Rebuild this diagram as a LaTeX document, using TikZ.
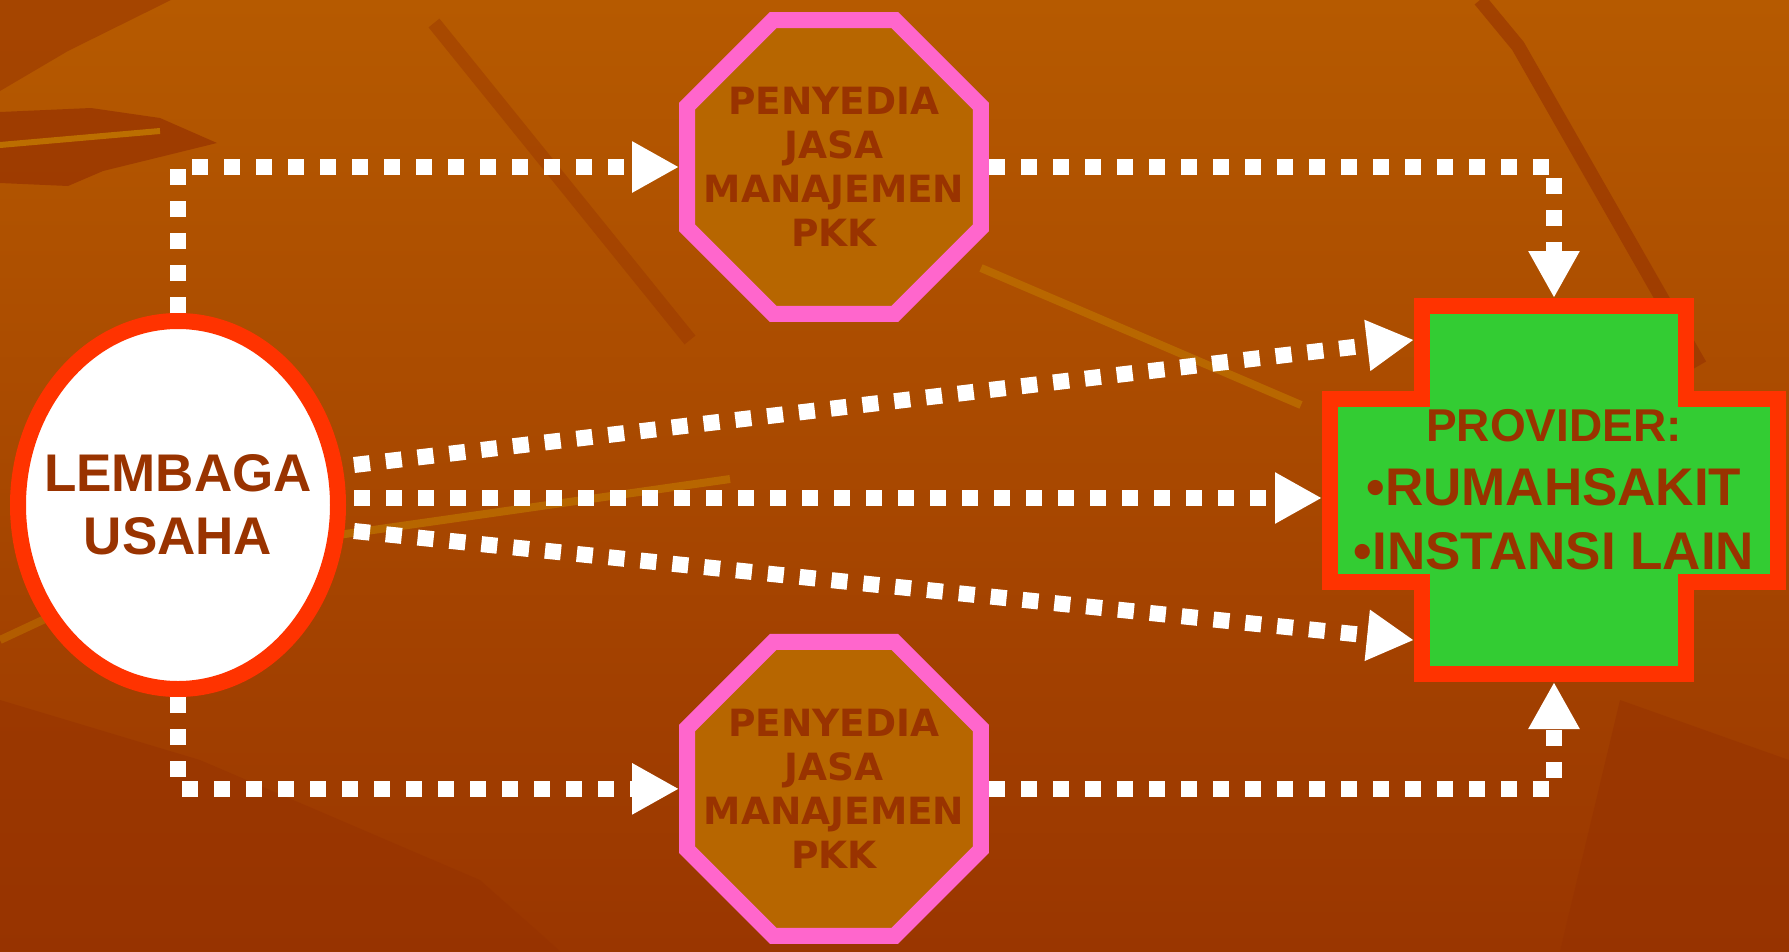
\documentclass[tikz,border=0pt]{standalone}
\usepackage{fontspec}
\setmainfont{Liberation Sans}
\newfontfamily\heavyfont{DejaVu Sans}
\usepackage{tikz}
\usetikzlibrary{shapes.geometric,arrows.meta,positioning}
\definecolor{bgtop}{RGB}{182,90,0}
\definecolor{bgbot}{RGB}{154,54,0}
\definecolor{leafdark}{RGB}{150,50,0}
\definecolor{leaflight}{RGB}{188,110,0}
\definecolor{textbrown}{RGB}{153,51,0}
\definecolor{octfill}{RGB}{183,102,0}
\definecolor{octpink}{RGB}{255,102,204}
\definecolor{borderred}{RGB}{255,51,0}
\definecolor{crossgreen}{RGB}{51,204,51}
\tikzset{
  lembaga/.style={ellipse,draw=borderred,line width=16bp,fill=white,
                  minimum width=320bp,minimum height=368bp,inner sep=0pt},
  lutext/.style={align=center,text=textbrown,font=\bfseries\fontsize{53bp}{63bp}\selectfont},
  pkkbox/.style={regular polygon,regular polygon sides=8,draw=octpink,line width=16bp,
                 fill=octfill,minimum size=318bp,inner sep=0pt},
  pkktext/.style={align=center,text=textbrown,font=\heavyfont\bfseries\fontsize{37.5bp}{44bp}\selectfont},
  armred/.style={rectangle,fill=borderred,inner sep=0pt,outer sep=0pt},
  armgreen/.style={rectangle,fill=crossgreen,inner sep=0pt,outer sep=0pt},
  provtext/.style={align=center,text=textbrown,font=\bfseries\fontsize{53bp}{64bp}\selectfont},
  flow/.style={draw=white,line width=16bp,dash pattern=on 16bp off 16bp,
               -{Triangle[length=47bp,width=48bp]}},
}
\begin{document}
\begin{tikzpicture}[x=1bp,y=-1bp]
  \useasboundingbox (0,0) rectangle (1789,951);
  \fill[top color=bgtop,bottom color=bgbot] (0,0) rectangle (1789,951);
  % leaves in the background
  \fill[leafdark,opacity=.5] (0,0) -- (171,0) -- (68,51) -- (0,91) -- cycle;
  \fill[leafdark,opacity=.7] (0,112) -- (91,108) -- (160,118) -- (217,143) -- (103,171) -- (68,186) -- (0,183) -- cycle;
  \draw[leaflight,line width=6bp] (0,145) -- (160,131);
  \draw[leafdark,line width=14bp,opacity=.4] (434,23) -- (690,340);
  \draw[leafdark,line width=14bp,opacity=.6] (1480,0) -- (1518,46) -- (1700,365);
  \draw[leaflight,line width=8bp,opacity=.8] (981,268) -- (1301,405);
  \draw[leaflight,line width=8bp,opacity=.8] (331,536) -- (730,479);
  \draw[leaflight,line width=8bp,opacity=.6] (0,640) -- (150,570);
  \fill[leafdark,opacity=.5] (0,700) -- (200,760) -- (480,880) -- (560,951) -- (0,951) -- cycle;
  \fill[leafdark,opacity=.5] (1620,700) -- (1789,760) -- (1789,951) -- (1560,951) -- cycle;

  % nodes
  \node[lembaga,label={[lutext]center:LEMBAGA\\USAHA}] (lu) at (178,505) {};
  \node[pkkbox,label={[pkktext]center:PENYEDIA\\JASA\\MANAJEMEN\\PKK}] (pkka) at (834,167) {};
  \node[pkkbox,below=312bp of pkka,label={[pkktext]center:PENYEDIA\\JASA\\MANAJEMEN\\PKK}] (pkkb) {};
  \node[armred,minimum width=280bp,minimum height=384bp] (provv) at (1554,490) {};
  \node[armred,minimum width=464bp,minimum height=199bp] (provh) at (provv.center) {};
  \node[armgreen,minimum width=248bp,minimum height=352bp] (provvg) at (provv.center) {};
  \node[armgreen,minimum width=432bp,minimum height=167bp] (provhg) at (provv.center) {};
  \node[provtext] (prov) at (provv.center)
    {{\fontsize{46bp}{64bp}\selectfont PROVIDER:}\\\textbullet RUMAHSAKIT\\\textbullet INSTANSI LAIN};

  % connectors
  \draw[flow] (lu.north) |- (pkka.west);
  \draw[flow] (pkka.east) -| (provv.north);
  \draw[flow] (lu.south) |- (pkkb.west);
  \draw[flow] (pkkb.east) -| (provv.south);
  \coordinate (fanc) at ([xshift=8bp,yshift=7bp]lu.east);
  \coordinate (fanu) at ([yshift=33bp]fanc);
  \coordinate (fand) at ([yshift=-33bp]fanc);
  \draw[flow] (fanu) -- (provv.133);
  \draw[flow] (fanc) -- (fanc -| provh.west);
  \draw[flow] (fand) -- (provv.227);
\end{tikzpicture}
\end{document}
